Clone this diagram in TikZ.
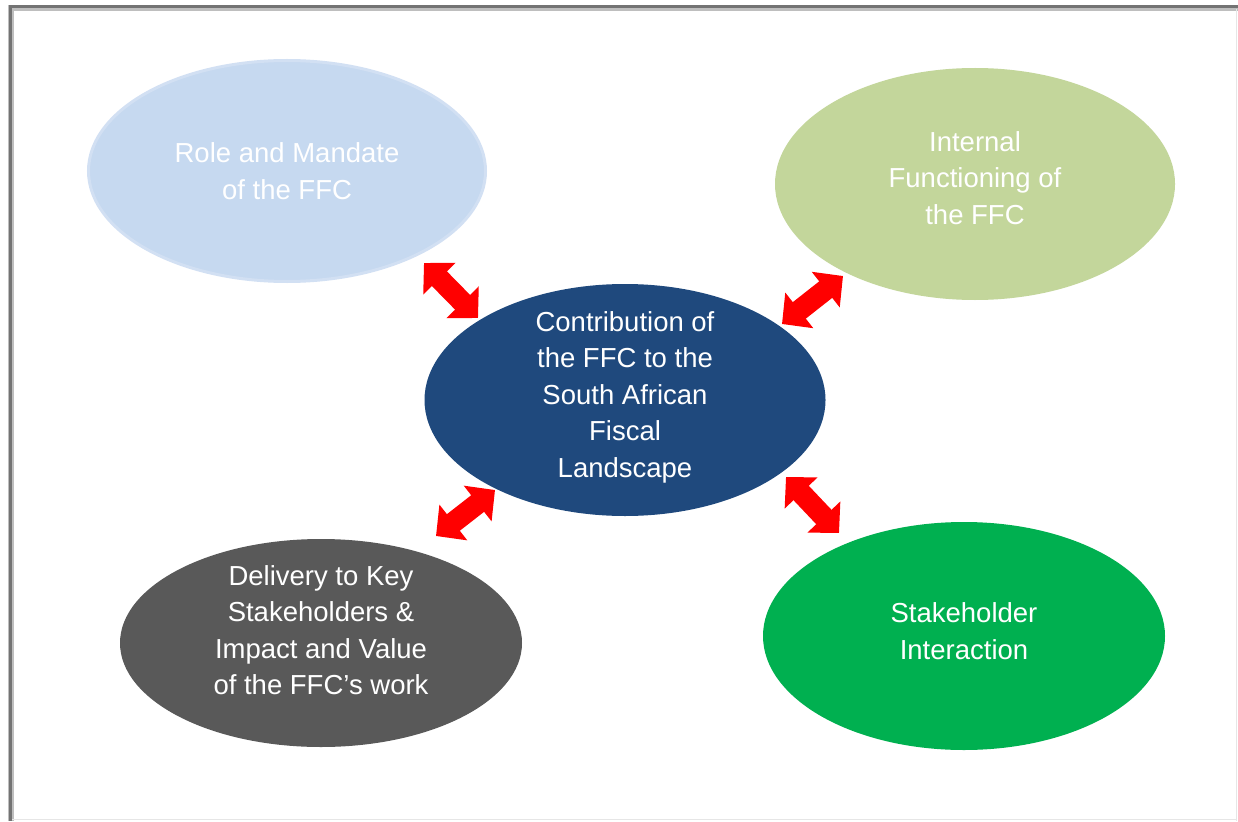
\documentclass[tikz,border=0pt]{standalone}
\usepackage{fontspec}
\setmainfont{Liberation Sans}
\usetikzlibrary{shapes.geometric,arrows.meta}

\definecolor{rolefill}{HTML}{C6D9F0}
\definecolor{roleedge}{HTML}{D2E0F3}
\definecolor{internalfill}{HTML}{C3D69B}
\definecolor{corefill}{HTML}{1F497D}
\definecolor{deliveryfill}{HTML}{595959}
\definecolor{stakefill}{HTML}{00B050}
\definecolor{arrowred}{HTML}{FF0000}
\definecolor{framedark}{HTML}{737373}
\definecolor{framesoft}{HTML}{BEBEBE}
\definecolor{framelight}{HTML}{E6E6E6}

\begin{document}
\begin{tikzpicture}[x=1pt,y=-1pt,
  bubble/.style={ellipse, draw=none, inner sep=0pt},
  caption/.style={text=white, align=center, inner sep=0pt,
    font=\fontsize{27.5}{36.5}\selectfont},
  link/.style={draw=arrowred, line width=21pt,
    {Triangle[length=22pt,width=44pt]}-{Triangle[length=22pt,width=44pt]}}]

\useasboundingbox (0,0) rectangle (1238,821);
\fill[white] (0,0) rectangle (1238,821);

% page frame: dark top and left edges, faint right and bottom edges
\draw[framesoft, line width=6pt] (11,821) -- (11,8) -- (1238,8);
\draw[framedark, line width=3pt] (10,821) -- (10,7) -- (1238,7);
\draw[framelight, line width=1.5pt] (1236.5,9) -- (1236.5,821);
\draw[framelight, line width=1.5pt] (12,819.5) -- (1236,819.5);

% bubbles
\node[bubble, fill=rolefill, draw=roleedge, line width=3pt,
      minimum width=397pt, minimum height=221pt] (role) at (287,171) {};
\node[bubble, fill=internalfill, minimum width=400pt, minimum height=232pt]
      (internal) at (975,184) {};
\node[bubble, fill=corefill, minimum width=401pt, minimum height=232pt]
      (core) at (625,400) {};
\node[bubble, fill=deliveryfill, minimum width=402pt, minimum height=208pt]
      (delivery) at (321,643) {};
\node[bubble, fill=stakefill, minimum width=402pt, minimum height=228pt]
      (stake) at (964,636) {};

% captions
\node[caption] (roletxt) at (287,171) {Role and Mandate\\of the FFC};
\node[caption] (internaltxt) at (975,178) {Internal\\Functioning of\\the FFC};
\node[caption] (coretxt) at (625,397) {Contribution of\\the FFC to the\\South African\\Fiscal\\Landscape};
\node[caption] (deliverytxt) at (321,630) {Delivery to Key\\Stakeholders \&\\Impact and Value\\of the FFC’s work};
\node[caption] (staketxt) at (964,631) {Stakeholder\\Interaction};

% two-way arrows between the centre and each outer bubble
\coordinate (r1) at (424,263);  \coordinate (r2) at (478,318);
\coordinate (i1) at (782,324);  \coordinate (i2) at (843,276);
\coordinate (d1) at (436,536);  \coordinate (d2) at (495,490);
\coordinate (s1) at (786,477);  \coordinate (s2) at (839,533);
\draw[link] (r1) -- (r2);
\draw[link] (i1) -- (i2);
\draw[link] (d1) -- (d2);
\draw[link] (s1) -- (s2);
\end{tikzpicture}
\end{document}
